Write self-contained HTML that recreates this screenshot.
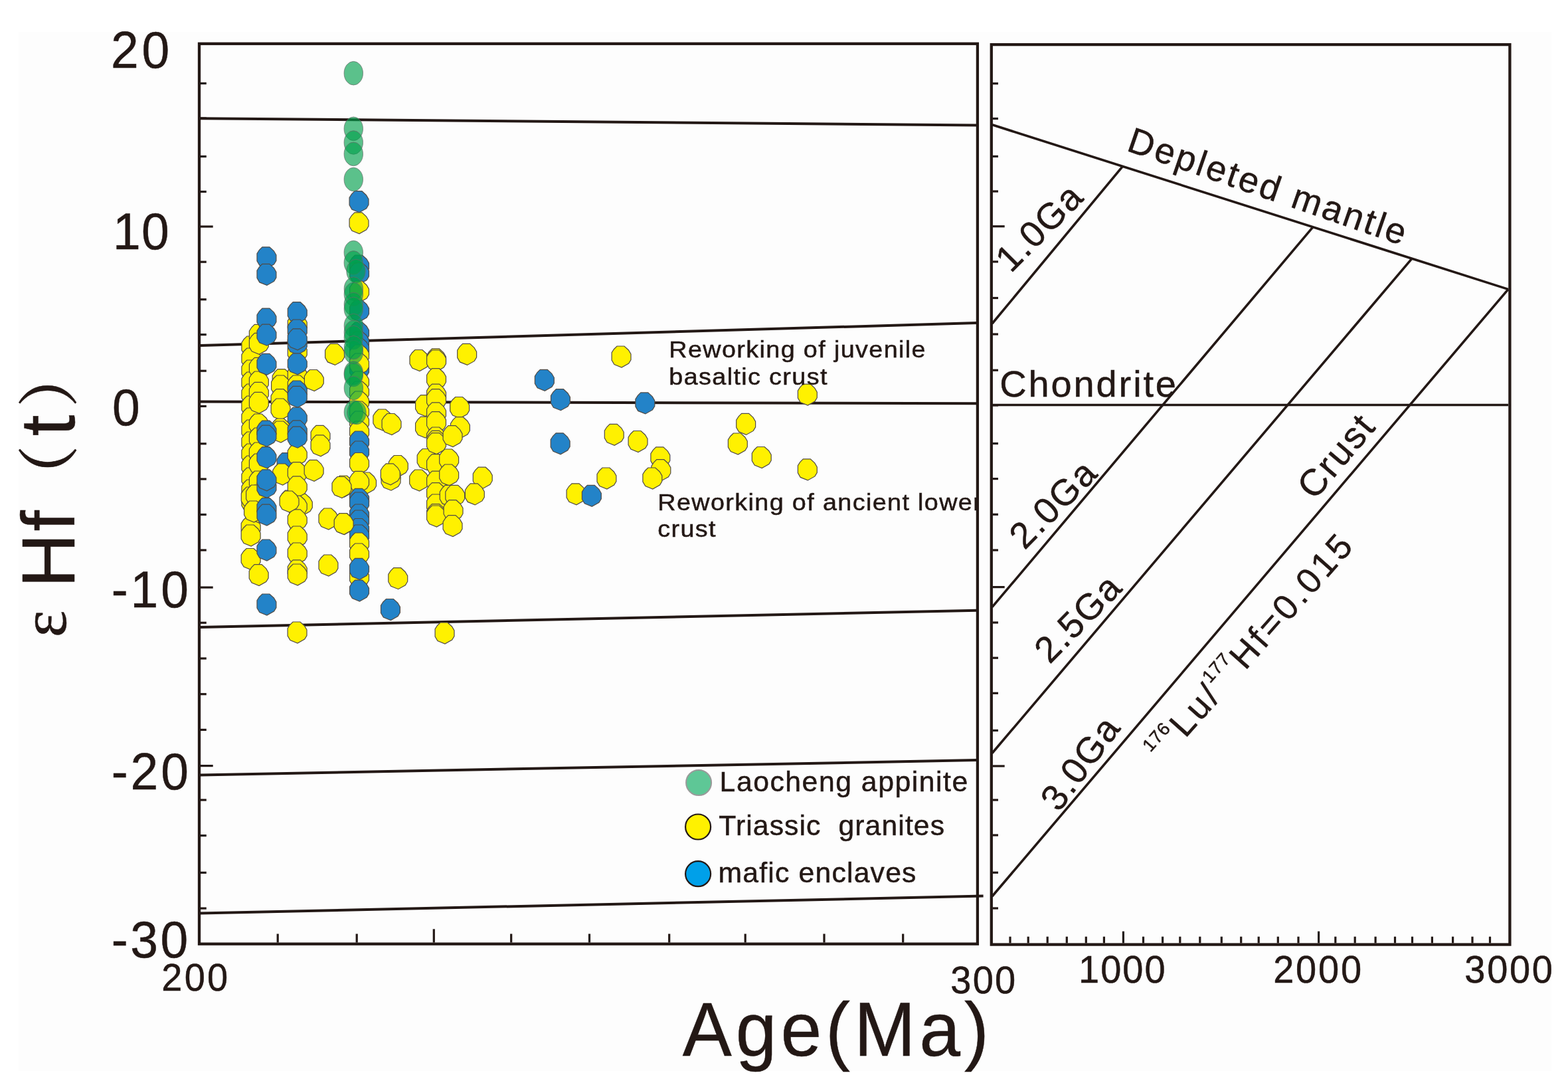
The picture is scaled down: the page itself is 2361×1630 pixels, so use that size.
<!DOCTYPE html>
<html><head><meta charset="utf-8"><title>εHf(t) vs Age</title>
<style>html,body{margin:0;padding:0;background:#fff;overflow:hidden}svg{display:block}</style></head>
<body><svg width="2361" height="1630" viewBox="0 0 2361 1630">
<defs><clipPath id="clipL" clipPathUnits="userSpaceOnUse"><rect x="0" y="0" width="1471" height="1630"/></clipPath></defs>
<rect x="0" y="0" width="2361" height="1630" fill="#ffffff"/>
<rect x="28" y="48" width="2308" height="1564" fill="#fdfdfd"/>
<g stroke="#231815" fill="none">
<line x1="302" y1="178.2" x2="1470" y2="188.5" stroke-width="4.0" stroke-linecap="butt"/>
<line x1="302" y1="520.1" x2="1470" y2="486.1" stroke-width="4.0" stroke-linecap="butt"/>
<line x1="302" y1="604.5" x2="1470" y2="607.3" stroke-width="4.0" stroke-linecap="butt"/>
<line x1="302" y1="943.9" x2="1470" y2="918.7" stroke-width="4.0" stroke-linecap="butt"/>
<line x1="302" y1="1166.4" x2="1470" y2="1144.1" stroke-width="4.0" stroke-linecap="butt"/>
<line x1="302" y1="1374.5" x2="1480.6" y2="1348.6" stroke-width="4.0" stroke-linecap="butt"/>
<line x1="1494" y1="187.8" x2="2271" y2="435.4" stroke-width="3.6" stroke-linecap="butt"/>
<line x1="1494" y1="609.5" x2="2271" y2="609.5" stroke-width="3.6" stroke-linecap="butt"/>
<line x1="1690.4" y1="250.38512226512228" x2="1494" y2="487" stroke-width="3.6" stroke-linecap="butt"/>
<line x1="1977" y1="341.7135135135135" x2="1494" y2="913.7" stroke-width="3.6" stroke-linecap="butt"/>
<line x1="2126" y1="389.1940797940798" x2="1494" y2="1133.5" stroke-width="3.6" stroke-linecap="butt"/>
<line x1="2271" y1="435.4" x2="1494" y2="1349" stroke-width="3.6" stroke-linecap="butt"/>
</g>
<polygon points="371.8,506.0 382.8,506.0 389.3,512.0 392.8,518.0 392.8,526.5 389.5,532.0 378.8,538.0 367.7,533.5 363.9,527.0 363.9,515.8 367.3,510.5" fill="#fff100" stroke="#514b45" stroke-width="1.2"/>
<polygon points="371.8,524.0 382.8,524.0 389.3,530.0 392.8,536.0 392.8,544.5 389.5,550.0 378.8,556.0 367.7,551.5 363.9,545.0 363.9,533.8 367.3,528.5" fill="#fff100" stroke="#514b45" stroke-width="1.2"/>
<polygon points="371.8,542.0 382.8,542.0 389.3,548.0 392.8,554.0 392.8,562.5 389.5,568.0 378.8,574.0 367.7,569.5 363.9,563.0 363.9,551.8 367.3,546.5" fill="#fff100" stroke="#514b45" stroke-width="1.2"/>
<polygon points="371.8,560.0 382.8,560.0 389.3,566.0 392.8,572.0 392.8,580.5 389.5,586.0 378.8,592.0 367.7,587.5 363.9,581.0 363.9,569.8 367.3,564.5" fill="#fff100" stroke="#514b45" stroke-width="1.2"/>
<polygon points="371.8,578.0 382.8,578.0 389.3,584.0 392.8,590.0 392.8,598.5 389.5,604.0 378.8,610.0 367.7,605.5 363.9,599.0 363.9,587.8 367.3,582.5" fill="#fff100" stroke="#514b45" stroke-width="1.2"/>
<polygon points="371.8,596.0 382.8,596.0 389.3,602.0 392.8,608.0 392.8,616.5 389.5,622.0 378.8,628.0 367.7,623.5 363.9,617.0 363.9,605.8 367.3,600.5" fill="#fff100" stroke="#514b45" stroke-width="1.2"/>
<polygon points="371.8,614.0 382.8,614.0 389.3,620.0 392.8,626.0 392.8,634.5 389.5,640.0 378.8,646.0 367.7,641.5 363.9,635.0 363.9,623.8 367.3,618.5" fill="#fff100" stroke="#514b45" stroke-width="1.2"/>
<polygon points="371.8,632.0 382.8,632.0 389.3,638.0 392.8,644.0 392.8,652.5 389.5,658.0 378.8,664.0 367.7,659.5 363.9,653.0 363.9,641.8 367.3,636.5" fill="#fff100" stroke="#514b45" stroke-width="1.2"/>
<polygon points="371.8,650.0 382.8,650.0 389.3,656.0 392.8,662.0 392.8,670.5 389.5,676.0 378.8,682.0 367.7,677.5 363.9,671.0 363.9,659.8 367.3,654.5" fill="#fff100" stroke="#514b45" stroke-width="1.2"/>
<polygon points="371.8,668.0 382.8,668.0 389.3,674.0 392.8,680.0 392.8,688.5 389.5,694.0 378.8,700.0 367.7,695.5 363.9,689.0 363.9,677.8 367.3,672.5" fill="#fff100" stroke="#514b45" stroke-width="1.2"/>
<polygon points="371.8,686.0 382.8,686.0 389.3,692.0 392.8,698.0 392.8,706.5 389.5,712.0 378.8,718.0 367.7,713.5 363.9,707.0 363.9,695.8 367.3,690.5" fill="#fff100" stroke="#514b45" stroke-width="1.2"/>
<polygon points="371.8,704.0 382.8,704.0 389.3,710.0 392.8,716.0 392.8,724.5 389.5,730.0 378.8,736.0 367.7,731.5 363.9,725.0 363.9,713.8 367.3,708.5" fill="#fff100" stroke="#514b45" stroke-width="1.2"/>
<polygon points="371.8,722.0 382.8,722.0 389.3,728.0 392.8,734.0 392.8,742.5 389.5,748.0 378.8,754.0 367.7,749.5 363.9,743.0 363.9,731.8 367.3,726.5" fill="#fff100" stroke="#514b45" stroke-width="1.2"/>
<polygon points="371.8,740.0 382.8,740.0 389.3,746.0 392.8,752.0 392.8,760.5 389.5,766.0 378.8,772.0 367.7,767.5 363.9,761.0 363.9,749.8 367.3,744.5" fill="#fff100" stroke="#514b45" stroke-width="1.2"/>
<polygon points="371.2,733.0 382.2,733.0 388.7,739.0 392.2,745.0 392.2,753.5 388.9,759.0 378.2,765.0 367.1,760.5 363.3,754.0 363.3,742.8 366.7,737.5" fill="#fff100" stroke="#514b45" stroke-width="1.2"/>
<polygon points="371.1,778.0 382.1,778.0 388.6,784.0 392.1,790.0 392.1,798.5 388.8,804.0 378.1,810.0 367.0,805.5 363.2,799.0 363.2,787.8 366.6,782.5" fill="#fff100" stroke="#514b45" stroke-width="1.2"/>
<polygon points="371.1,790.0 382.1,790.0 388.6,796.0 392.1,802.0 392.1,810.5 388.8,816.0 378.1,822.0 367.0,817.5 363.2,811.0 363.2,799.8 366.6,794.5" fill="#fff100" stroke="#514b45" stroke-width="1.2"/>
<polygon points="371.1,825.5 382.1,825.5 388.6,831.5 392.1,837.5 392.1,846.0 388.8,851.5 378.1,857.5 367.0,853.0 363.2,846.5 363.2,835.3 366.6,830.0" fill="#fff100" stroke="#514b45" stroke-width="1.2"/>
<polygon points="383.3,488.3 394.3,488.3 400.8,494.3 404.3,500.3 404.3,508.8 401.0,514.3 390.3,520.3 379.2,515.8 375.4,509.3 375.4,498.1 378.8,492.8" fill="#fff100" stroke="#514b45" stroke-width="1.2"/>
<polygon points="383.3,501.3 394.3,501.3 400.8,507.3 404.3,513.3 404.3,521.8 401.0,527.3 390.3,533.3 379.2,528.8 375.4,522.3 375.4,511.1 378.8,505.8" fill="#fff100" stroke="#514b45" stroke-width="1.2"/>
<polygon points="383.3,538.3 394.3,538.3 400.8,544.3 404.3,550.3 404.3,558.8 401.0,564.3 390.3,570.3 379.2,565.8 375.4,559.3 375.4,548.1 378.8,542.8" fill="#fff100" stroke="#514b45" stroke-width="1.2"/>
<polygon points="383.3,559.0 394.3,559.0 400.8,565.0 404.3,571.0 404.3,579.5 401.0,585.0 390.3,591.0 379.2,586.5 375.4,580.0 375.4,568.8 378.8,563.5" fill="#fff100" stroke="#514b45" stroke-width="1.2"/>
<polygon points="383.3,575.3 394.3,575.3 400.8,581.3 404.3,587.3 404.3,595.8 401.0,601.3 390.3,607.3 379.2,602.8 375.4,596.3 375.4,585.1 378.8,579.8" fill="#fff100" stroke="#514b45" stroke-width="1.2"/>
<polygon points="383.3,590.3 394.3,590.3 400.8,596.3 404.3,602.3 404.3,610.8 401.0,616.3 390.3,622.3 379.2,617.8 375.4,611.3 375.4,600.1 378.8,594.8" fill="#fff100" stroke="#514b45" stroke-width="1.2"/>
<polygon points="383.3,623.0 394.3,623.0 400.8,629.0 404.3,635.0 404.3,643.5 401.0,649.0 390.3,655.0 379.2,650.5 375.4,644.0 375.4,632.8 378.8,627.5" fill="#fff100" stroke="#514b45" stroke-width="1.2"/>
<polygon points="383.3,644.0 394.3,644.0 400.8,650.0 404.3,656.0 404.3,664.5 401.0,670.0 390.3,676.0 379.2,671.5 375.4,665.0 375.4,653.8 378.8,648.5" fill="#fff100" stroke="#514b45" stroke-width="1.2"/>
<polygon points="383.3,666.0 394.3,666.0 400.8,672.0 404.3,678.0 404.3,686.5 401.0,692.0 390.3,698.0 379.2,693.5 375.4,687.0 375.4,675.8 378.8,670.5" fill="#fff100" stroke="#514b45" stroke-width="1.2"/>
<polygon points="383.3,683.0 394.3,683.0 400.8,689.0 404.3,695.0 404.3,703.5 401.0,709.0 390.3,715.0 379.2,710.5 375.4,704.0 375.4,692.8 378.8,687.5" fill="#fff100" stroke="#514b45" stroke-width="1.2"/>
<polygon points="383.3,709.0 394.3,709.0 400.8,715.0 404.3,721.0 404.3,729.5 401.0,735.0 390.3,741.0 379.2,736.5 375.4,730.0 375.4,718.8 378.8,713.5" fill="#fff100" stroke="#514b45" stroke-width="1.2"/>
<polygon points="383.3,730.0 394.3,730.0 400.8,736.0 404.3,742.0 404.3,750.5 401.0,756.0 390.3,762.0 379.2,757.5 375.4,751.0 375.4,739.8 378.8,734.5" fill="#fff100" stroke="#514b45" stroke-width="1.2"/>
<polygon points="383.3,755.0 394.3,755.0 400.8,761.0 404.3,767.0 404.3,775.5 401.0,781.0 390.3,787.0 379.2,782.5 375.4,776.0 375.4,764.8 378.8,759.5" fill="#fff100" stroke="#514b45" stroke-width="1.2"/>
<polygon points="378.5,730.0 389.5,730.0 396.0,736.0 399.5,742.0 399.5,750.5 396.2,756.0 385.5,762.0 374.4,757.5 370.6,751.0 370.6,739.8 374.0,734.5" fill="#fff100" stroke="#514b45" stroke-width="1.2"/>
<polygon points="375.5,754.0 386.5,754.0 393.0,760.0 396.5,766.0 396.5,774.5 393.2,780.0 382.5,786.0 371.4,781.5 367.6,775.0 367.6,763.8 371.0,758.5" fill="#fff100" stroke="#514b45" stroke-width="1.2"/>
<polygon points="383.1,849.6 394.1,849.6 400.6,855.6 404.1,861.6 404.1,870.1 400.8,875.6 390.1,881.6 379.0,877.1 375.2,870.6 375.2,859.4 378.6,854.1" fill="#fff100" stroke="#514b45" stroke-width="1.2"/>
<polygon points="418.1,555.6 429.1,555.6 435.6,561.6 439.1,567.6 439.1,576.1 435.8,581.6 425.1,587.6 414.0,583.1 410.2,576.6 410.2,565.4 413.6,560.1" fill="#fff100" stroke="#514b45" stroke-width="1.2"/>
<polygon points="416.5,565.0 427.5,565.0 434.0,571.0 437.5,577.0 437.5,585.5 434.2,591.0 423.5,597.0 412.4,592.5 408.6,586.0 408.6,574.8 412.0,569.5" fill="#fff100" stroke="#514b45" stroke-width="1.2"/>
<polygon points="416.0,585.7 427.0,585.7 433.5,591.7 437.0,597.7 437.0,606.2 433.7,611.7 423.0,617.7 411.9,613.2 408.1,606.7 408.1,595.5 411.5,590.2" fill="#fff100" stroke="#514b45" stroke-width="1.2"/>
<polygon points="416.0,600.0 427.0,600.0 433.5,606.0 437.0,612.0 437.0,620.5 433.7,626.0 423.0,632.0 411.9,627.5 408.1,621.0 408.1,609.8 411.5,604.5" fill="#fff100" stroke="#514b45" stroke-width="1.2"/>
<polygon points="416.5,630.0 427.5,630.0 434.0,636.0 437.5,642.0 437.5,650.5 434.2,656.0 423.5,662.0 412.4,657.5 408.6,651.0 408.6,639.8 412.0,634.5" fill="#fff100" stroke="#514b45" stroke-width="1.2"/>
<polygon points="416.0,634.0 427.0,634.0 433.5,640.0 437.0,646.0 437.0,654.5 433.7,660.0 423.0,666.0 411.9,661.5 408.1,655.0 408.1,643.8 411.5,638.5" fill="#fff100" stroke="#514b45" stroke-width="1.2"/>
<polygon points="425.0,681.7 436.0,681.7 442.5,687.7 446.0,693.7 446.0,702.2 442.7,707.7 432.0,713.7 420.9,709.2 417.1,702.7 417.1,691.5 420.5,686.2" fill="#2383c8" stroke="#514b45" stroke-width="1.2"/>
<polygon points="418.7,698.0 429.7,698.0 436.2,704.0 439.7,710.0 439.7,718.5 436.4,724.0 425.7,730.0 414.6,725.5 410.8,719.0 410.8,707.8 414.2,702.5" fill="#fff100" stroke="#514b45" stroke-width="1.2"/>
<polygon points="429.6,738.1 440.6,738.1 447.1,744.1 450.6,750.1 450.6,758.6 447.3,764.1 436.6,770.1 425.5,765.6 421.7,759.1 421.7,747.9 425.1,742.6" fill="#fff100" stroke="#514b45" stroke-width="1.2"/>
<polygon points="441.2,472.9 452.2,472.9 458.7,478.9 462.2,484.9 462.2,493.4 458.9,498.9 448.2,504.9 437.1,500.4 433.3,493.9 433.3,482.7 436.7,477.4" fill="#fff100" stroke="#514b45" stroke-width="1.2"/>
<polygon points="441.2,514.0 452.2,514.0 458.7,520.0 462.2,526.0 462.2,534.5 458.9,540.0 448.2,546.0 437.1,541.5 433.3,535.0 433.3,523.8 436.7,518.5" fill="#fff100" stroke="#514b45" stroke-width="1.2"/>
<polygon points="441.2,549.0 452.2,549.0 458.7,555.0 462.2,561.0 462.2,569.5 458.9,575.0 448.2,581.0 437.1,576.5 433.3,570.0 433.3,558.8 436.7,553.5" fill="#fff100" stroke="#514b45" stroke-width="1.2"/>
<polygon points="441.2,565.0 452.2,565.0 458.7,571.0 462.2,577.0 462.2,585.5 458.9,591.0 448.2,597.0 437.1,592.5 433.3,586.0 433.3,574.8 436.7,569.5" fill="#fff100" stroke="#514b45" stroke-width="1.2"/>
<polygon points="449.3,743.5 460.3,743.5 466.8,749.5 470.3,755.5 470.3,764.0 467.0,769.5 456.3,775.5 445.2,771.0 441.4,764.5 441.4,753.3 444.8,748.0" fill="#fff100" stroke="#514b45" stroke-width="1.2"/>
<polygon points="441.2,668.5 452.2,668.5 458.7,674.5 462.2,680.5 462.2,689.0 458.9,694.5 448.2,700.5 437.1,696.0 433.3,689.5 433.3,678.3 436.7,673.0" fill="#fff100" stroke="#514b45" stroke-width="1.2"/>
<polygon points="441.2,695.7 452.2,695.7 458.7,701.7 462.2,707.7 462.2,716.2 458.9,721.7 448.2,727.7 437.1,723.2 433.3,716.7 433.3,705.5 436.7,700.2" fill="#fff100" stroke="#514b45" stroke-width="1.2"/>
<polygon points="441.2,716.8 452.2,716.8 458.7,722.8 462.2,728.8 462.2,737.3 458.9,742.8 448.2,748.8 437.1,744.3 433.3,737.8 433.3,726.6 436.7,721.3" fill="#fff100" stroke="#514b45" stroke-width="1.2"/>
<polygon points="441.2,746.2 452.2,746.2 458.7,752.2 462.2,758.2 462.2,766.7 458.9,772.2 448.2,778.2 437.1,773.7 433.3,767.2 433.3,756.0 436.7,750.7" fill="#fff100" stroke="#514b45" stroke-width="1.2"/>
<polygon points="441.2,766.9 452.2,766.9 458.7,772.9 462.2,778.9 462.2,787.4 458.9,792.9 448.2,798.9 437.1,794.4 433.3,787.9 433.3,776.7 436.7,771.4" fill="#fff100" stroke="#514b45" stroke-width="1.2"/>
<polygon points="441.2,792.0 452.2,792.0 458.7,798.0 462.2,804.0 462.2,812.5 458.9,818.0 448.2,824.0 437.1,819.5 433.3,813.0 433.3,801.8 436.7,796.5" fill="#fff100" stroke="#514b45" stroke-width="1.2"/>
<polygon points="441.2,817.0 452.2,817.0 458.7,823.0 462.2,829.0 462.2,837.5 458.9,843.0 448.2,849.0 437.1,844.5 433.3,838.0 433.3,826.8 436.7,821.5" fill="#fff100" stroke="#514b45" stroke-width="1.2"/>
<polygon points="441.2,842.8 452.2,842.8 458.7,848.8 462.2,854.8 462.2,863.3 458.9,868.8 448.2,874.8 437.1,870.3 433.3,863.8 433.3,852.6 436.7,847.3" fill="#fff100" stroke="#514b45" stroke-width="1.2"/>
<polygon points="441.2,849.0 452.2,849.0 458.7,855.0 462.2,861.0 462.2,869.5 458.9,875.0 448.2,881.0 437.1,876.5 433.3,870.0 433.3,858.8 436.7,853.5" fill="#fff100" stroke="#514b45" stroke-width="1.2"/>
<polygon points="429.0,739.0 440.0,739.0 446.5,745.0 450.0,751.0 450.0,759.5 446.7,765.0 436.0,771.0 424.9,766.5 421.1,760.0 421.1,748.8 424.5,743.5" fill="#fff100" stroke="#514b45" stroke-width="1.2"/>
<polygon points="441.0,936.0 452.0,936.0 458.5,942.0 462.0,948.0 462.0,956.5 458.7,962.0 448.0,968.0 436.9,963.5 433.1,957.0 433.1,945.8 436.5,940.5" fill="#fff100" stroke="#514b45" stroke-width="1.2"/>
<polygon points="466.3,556.5 477.3,556.5 483.8,562.5 487.3,568.5 487.3,577.0 484.0,582.5 473.3,588.5 462.2,584.0 458.4,577.5 458.4,566.3 461.8,561.0" fill="#fff100" stroke="#514b45" stroke-width="1.2"/>
<polygon points="497.5,517.4 508.5,517.4 515.0,523.4 518.5,529.4 518.5,537.9 515.2,543.4 504.5,549.4 493.4,544.9 489.6,538.4 489.6,527.2 493.0,521.9" fill="#fff100" stroke="#514b45" stroke-width="1.2"/>
<polygon points="476.0,640.3 487.0,640.3 493.5,646.3 497.0,652.3 497.0,660.8 493.7,666.3 483.0,672.3 471.9,667.8 468.1,661.3 468.1,650.1 471.5,644.8" fill="#fff100" stroke="#514b45" stroke-width="1.2"/>
<polygon points="476.0,654.8 487.0,654.8 493.5,660.8 497.0,666.8 497.0,675.3 493.7,680.8 483.0,686.8 471.9,682.3 468.1,675.8 468.1,664.6 471.5,659.3" fill="#fff100" stroke="#514b45" stroke-width="1.2"/>
<polygon points="466.1,692.3 477.1,692.3 483.6,698.3 487.1,704.3 487.1,712.8 483.8,718.3 473.1,724.3 462.0,719.8 458.2,713.3 458.2,702.1 461.6,696.8" fill="#fff100" stroke="#514b45" stroke-width="1.2"/>
<polygon points="487.9,765.0 498.9,765.0 505.4,771.0 508.9,777.0 508.9,785.5 505.6,791.0 494.9,797.0 483.8,792.5 480.0,786.0 480.0,774.8 483.4,769.5" fill="#fff100" stroke="#514b45" stroke-width="1.2"/>
<polygon points="511.5,772.5 522.5,772.5 529.0,778.5 532.5,784.5 532.5,793.0 529.2,798.5 518.5,804.5 507.4,800.0 503.6,793.5 503.6,782.3 507.0,777.0" fill="#fff100" stroke="#514b45" stroke-width="1.2"/>
<polygon points="511.5,716.0 522.5,716.0 529.0,722.0 532.5,728.0 532.5,736.5 529.2,742.0 518.5,748.0 507.4,743.5 503.6,737.0 503.6,725.8 507.0,720.5" fill="#fff100" stroke="#514b45" stroke-width="1.2"/>
<polygon points="394.9,371.8 405.9,371.8 412.4,377.8 415.9,383.8 415.9,392.3 412.6,397.8 401.9,403.8 390.8,399.3 387.0,392.8 387.0,381.6 390.4,376.3" fill="#2383c8" stroke="#514b45" stroke-width="1.2"/>
<polygon points="394.9,397.4 405.9,397.4 412.4,403.4 415.9,409.4 415.9,417.9 412.6,423.4 401.9,429.4 390.8,424.9 387.0,418.4 387.0,407.2 390.4,401.9" fill="#2383c8" stroke="#514b45" stroke-width="1.2"/>
<polygon points="394.9,464.1 405.9,464.1 412.4,470.1 415.9,476.1 415.9,484.6 412.6,490.1 401.9,496.1 390.8,491.6 387.0,485.1 387.0,473.9 390.4,468.6" fill="#2383c8" stroke="#514b45" stroke-width="1.2"/>
<polygon points="394.9,488.2 405.9,488.2 412.4,494.2 415.9,500.2 415.9,508.7 412.6,514.2 401.9,520.2 390.8,515.7 387.0,509.2 387.0,498.0 390.4,492.7" fill="#2383c8" stroke="#514b45" stroke-width="1.2"/>
<polygon points="394.9,532.4 405.9,532.4 412.4,538.4 415.9,544.4 415.9,552.9 412.6,558.4 401.9,564.4 390.8,559.9 387.0,553.4 387.0,542.2 390.4,536.9" fill="#2383c8" stroke="#514b45" stroke-width="1.2"/>
<polygon points="394.9,633.1 405.9,633.1 412.4,639.1 415.9,645.1 415.9,653.6 412.6,659.1 401.9,665.1 390.8,660.6 387.0,654.1 387.0,642.9 390.4,637.6" fill="#2383c8" stroke="#514b45" stroke-width="1.2"/>
<polygon points="394.9,640.1 405.9,640.1 412.4,646.1 415.9,652.1 415.9,660.6 412.6,666.1 401.9,672.1 390.8,667.6 387.0,661.1 387.0,649.9 390.4,644.6" fill="#2383c8" stroke="#514b45" stroke-width="1.2"/>
<polygon points="394.9,672.7 405.9,672.7 412.4,678.7 415.9,684.7 415.9,693.2 412.6,698.7 401.9,704.7 390.8,700.2 387.0,693.7 387.0,682.5 390.4,677.2" fill="#2383c8" stroke="#514b45" stroke-width="1.2"/>
<polygon points="394.9,717.4 405.9,717.4 412.4,723.4 415.9,729.4 415.9,737.9 412.6,743.4 401.9,749.4 390.8,744.9 387.0,738.4 387.0,727.2 390.4,721.9" fill="#2383c8" stroke="#514b45" stroke-width="1.2"/>
<polygon points="394.9,706.8 405.9,706.8 412.4,712.8 415.9,718.8 415.9,727.3 412.6,732.8 401.9,738.8 390.8,734.3 387.0,727.8 387.0,716.6 390.4,711.3" fill="#2383c8" stroke="#514b45" stroke-width="1.2"/>
<polygon points="394.9,749.4 405.9,749.4 412.4,755.4 415.9,761.4 415.9,769.9 412.6,775.4 401.9,781.4 390.8,776.9 387.0,770.4 387.0,759.2 390.4,753.9" fill="#2383c8" stroke="#514b45" stroke-width="1.2"/>
<polygon points="394.9,759.1 405.9,759.1 412.4,765.1 415.9,771.1 415.9,779.6 412.6,785.1 401.9,791.1 390.8,786.6 387.0,780.1 387.0,768.9 390.4,763.6" fill="#2383c8" stroke="#514b45" stroke-width="1.2"/>
<polygon points="394.9,812.0 405.9,812.0 412.4,818.0 415.9,824.0 415.9,832.5 412.6,838.0 401.9,844.0 390.8,839.5 387.0,833.0 387.0,821.8 390.4,816.5" fill="#2383c8" stroke="#514b45" stroke-width="1.2"/>
<polygon points="394.9,894.0 405.9,894.0 412.4,900.0 415.9,906.0 415.9,914.5 412.6,920.0 401.9,926.0 390.8,921.5 387.0,915.0 387.0,903.8 390.4,898.5" fill="#2383c8" stroke="#514b45" stroke-width="1.2"/>
<polygon points="441.2,454.7 452.2,454.7 458.7,460.7 462.2,466.7 462.2,475.2 458.9,480.7 448.2,486.7 437.1,482.2 433.3,475.7 433.3,464.5 436.7,459.2" fill="#2383c8" stroke="#514b45" stroke-width="1.2"/>
<polygon points="441.2,481.0 452.2,481.0 458.7,487.0 462.2,493.0 462.2,501.5 458.9,507.0 448.2,513.0 437.1,508.5 433.3,502.0 433.3,490.8 436.7,485.5" fill="#2383c8" stroke="#514b45" stroke-width="1.2"/>
<polygon points="441.2,501.7 452.2,501.7 458.7,507.7 462.2,513.7 462.2,522.2 458.9,527.7 448.2,533.7 437.1,529.2 433.3,522.7 433.3,511.5 436.7,506.2" fill="#2383c8" stroke="#514b45" stroke-width="1.2"/>
<polygon points="441.2,494.8 452.2,494.8 458.7,500.8 462.2,506.8 462.2,515.3 458.9,520.8 448.2,526.8 437.1,522.3 433.3,515.8 433.3,504.6 436.7,499.3" fill="#2383c8" stroke="#514b45" stroke-width="1.2"/>
<polygon points="441.2,531.8 452.2,531.8 458.7,537.8 462.2,543.8 462.2,552.3 458.9,557.8 448.2,563.8 437.1,559.3 433.3,552.8 433.3,541.6 436.7,536.3" fill="#2383c8" stroke="#514b45" stroke-width="1.2"/>
<polygon points="441.2,573.0 452.2,573.0 458.7,579.0 462.2,585.0 462.2,593.5 458.9,599.0 448.2,605.0 437.1,600.5 433.3,594.0 433.3,582.8 436.7,577.5" fill="#2383c8" stroke="#514b45" stroke-width="1.2"/>
<polygon points="441.2,581.3 452.2,581.3 458.7,587.3 462.2,593.3 462.2,601.8 458.9,607.3 448.2,613.3 437.1,608.8 433.3,602.3 433.3,591.1 436.7,585.8" fill="#2383c8" stroke="#514b45" stroke-width="1.2"/>
<polygon points="441.2,613.2 452.2,613.2 458.7,619.2 462.2,625.2 462.2,633.7 458.9,639.2 448.2,645.2 437.1,640.7 433.3,634.2 433.3,623.0 436.7,617.7" fill="#2383c8" stroke="#514b45" stroke-width="1.2"/>
<polygon points="441.2,632.8 452.2,632.8 458.7,638.8 462.2,644.8 462.2,653.3 458.9,658.8 448.2,664.8 437.1,660.3 433.3,653.8 433.3,642.6 436.7,637.3" fill="#2383c8" stroke="#514b45" stroke-width="1.2"/>
<polygon points="441.2,642.2 452.2,642.2 458.7,648.2 462.2,654.2 462.2,662.7 458.9,668.2 448.2,674.2 437.1,669.7 433.3,663.2 433.3,652.0 436.7,646.7" fill="#2383c8" stroke="#514b45" stroke-width="1.2"/>
<polygon points="534.5,384.0 545.5,384.0 552.0,390.0 555.5,396.0 555.5,404.5 552.2,410.0 541.5,416.0 530.4,411.5 526.6,405.0 526.6,393.8 530.0,388.5" fill="#2383c8" stroke="#514b45" stroke-width="1.2"/>
<polygon points="534.5,395.5 545.5,395.5 552.0,401.5 555.5,407.5 555.5,416.0 552.2,421.5 541.5,427.5 530.4,423.0 526.6,416.5 526.6,405.3 530.0,400.0" fill="#2383c8" stroke="#514b45" stroke-width="1.2"/>
<polygon points="534.5,423.0 545.5,423.0 552.0,429.0 555.5,435.0 555.5,443.5 552.2,449.0 541.5,455.0 530.4,450.5 526.6,444.0 526.6,432.8 530.0,427.5" fill="#fff100" stroke="#514b45" stroke-width="1.2"/>
<polygon points="534.5,452.0 545.5,452.0 552.0,458.0 555.5,464.0 555.5,472.5 552.2,478.0 541.5,484.0 530.4,479.5 526.6,473.0 526.6,461.8 530.0,456.5" fill="#2383c8" stroke="#514b45" stroke-width="1.2"/>
<polygon points="534.5,485.0 545.5,485.0 552.0,491.0 555.5,497.0 555.5,505.5 552.2,511.0 541.5,517.0 530.4,512.5 526.6,506.0 526.6,494.8 530.0,489.5" fill="#2383c8" stroke="#514b45" stroke-width="1.2"/>
<polygon points="534.5,514.0 545.5,514.0 552.0,520.0 555.5,526.0 555.5,534.5 552.2,540.0 541.5,546.0 530.4,541.5 526.6,535.0 526.6,523.8 530.0,518.5" fill="#2383c8" stroke="#514b45" stroke-width="1.2"/>
<polygon points="534.5,499.0 545.5,499.0 552.0,505.0 555.5,511.0 555.5,519.5 552.2,525.0 541.5,531.0 530.4,526.5 526.6,520.0 526.6,508.8 530.0,503.5" fill="#2383c8" stroke="#514b45" stroke-width="1.2"/>
<polygon points="534.5,509.0 545.5,509.0 552.0,515.0 555.5,521.0 555.5,529.5 552.2,535.0 541.5,541.0 530.4,536.5 526.6,530.0 526.6,518.8 530.0,513.5" fill="#2383c8" stroke="#514b45" stroke-width="1.2"/>
<polygon points="534.5,540.0 545.5,540.0 552.0,546.0 555.5,552.0 555.5,560.5 552.2,566.0 541.5,572.0 530.4,567.5 526.6,561.0 526.6,549.8 530.0,544.5" fill="#2383c8" stroke="#514b45" stroke-width="1.2"/>
<polygon points="534.5,519.0 545.5,519.0 552.0,525.0 555.5,531.0 555.5,539.5 552.2,545.0 541.5,551.0 530.4,546.5 526.6,540.0 526.6,528.8 530.0,523.5" fill="#fff100" stroke="#514b45" stroke-width="1.2"/>
<polygon points="534.5,532.0 545.5,532.0 552.0,538.0 555.5,544.0 555.5,552.5 552.2,558.0 541.5,564.0 530.4,559.5 526.6,553.0 526.6,541.8 530.0,536.5" fill="#fff100" stroke="#514b45" stroke-width="1.2"/>
<polygon points="534.5,559.0 545.5,559.0 552.0,565.0 555.5,571.0 555.5,579.5 552.2,585.0 541.5,591.0 530.4,586.5 526.6,580.0 526.6,568.8 530.0,563.5" fill="#fff100" stroke="#514b45" stroke-width="1.2"/>
<polygon points="534.5,574.0 545.5,574.0 552.0,580.0 555.5,586.0 555.5,594.5 552.2,600.0 541.5,606.0 530.4,601.5 526.6,595.0 526.6,583.8 530.0,578.5" fill="#fff100" stroke="#514b45" stroke-width="1.2"/>
<polygon points="534.5,589.0 545.5,589.0 552.0,595.0 555.5,601.0 555.5,609.5 552.2,615.0 541.5,621.0 530.4,616.5 526.6,610.0 526.6,598.8 530.0,593.5" fill="#fff100" stroke="#514b45" stroke-width="1.2"/>
<polygon points="534.5,604.0 545.5,604.0 552.0,610.0 555.5,616.0 555.5,624.5 552.2,630.0 541.5,636.0 530.4,631.5 526.6,625.0 526.6,613.8 530.0,608.5" fill="#fff100" stroke="#514b45" stroke-width="1.2"/>
<polygon points="534.5,619.0 545.5,619.0 552.0,625.0 555.5,631.0 555.5,639.5 552.2,645.0 541.5,651.0 530.4,646.5 526.6,640.0 526.6,628.8 530.0,623.5" fill="#fff100" stroke="#514b45" stroke-width="1.2"/>
<polygon points="534.5,634.0 545.5,634.0 552.0,640.0 555.5,646.0 555.5,654.5 552.2,660.0 541.5,666.0 530.4,661.5 526.6,655.0 526.6,643.8 530.0,638.5" fill="#fff100" stroke="#514b45" stroke-width="1.2"/>
<polygon points="534.5,649.0 545.5,649.0 552.0,655.0 555.5,661.0 555.5,669.5 552.2,675.0 541.5,681.0 530.4,676.5 526.6,670.0 526.6,658.8 530.0,653.5" fill="#2383c8" stroke="#514b45" stroke-width="1.2"/>
<polygon points="534.5,664.0 545.5,664.0 552.0,670.0 555.5,676.0 555.5,684.5 552.2,690.0 541.5,696.0 530.4,691.5 526.6,685.0 526.6,673.8 530.0,668.5" fill="#2383c8" stroke="#514b45" stroke-width="1.2"/>
<polygon points="534.5,681.5 545.5,681.5 552.0,687.5 555.5,693.5 555.5,702.0 552.2,707.5 541.5,713.5 530.4,709.0 526.6,702.5 526.6,691.3 530.0,686.0" fill="#fff100" stroke="#514b45" stroke-width="1.2"/>
<polygon points="545.5,711.0 556.5,711.0 563.0,717.0 566.5,723.0 566.5,731.5 563.2,737.0 552.5,743.0 541.4,738.5 537.6,732.0 537.6,720.8 541.0,715.5" fill="#fff100" stroke="#514b45" stroke-width="1.2"/>
<polygon points="534.5,709.3 545.5,709.3 552.0,715.3 555.5,721.3 555.5,729.8 552.2,735.3 541.5,741.3 530.4,736.8 526.6,730.3 526.6,719.1 530.0,713.8" fill="#fff100" stroke="#514b45" stroke-width="1.2"/>
<polygon points="534.5,735.4 545.5,735.4 552.0,741.4 555.5,747.4 555.5,755.9 552.2,761.4 541.5,767.4 530.4,762.9 526.6,756.4 526.6,745.2 530.0,739.9" fill="#2383c8" stroke="#514b45" stroke-width="1.2"/>
<polygon points="534.5,741.0 545.5,741.0 552.0,747.0 555.5,753.0 555.5,761.5 552.2,767.0 541.5,773.0 530.4,768.5 526.6,762.0 526.6,750.8 530.0,745.5" fill="#2383c8" stroke="#514b45" stroke-width="1.2"/>
<polygon points="534.5,759.0 545.5,759.0 552.0,765.0 555.5,771.0 555.5,779.5 552.2,785.0 541.5,791.0 530.4,786.5 526.6,780.0 526.6,768.8 530.0,763.5" fill="#2383c8" stroke="#514b45" stroke-width="1.2"/>
<polygon points="534.5,768.0 545.5,768.0 552.0,774.0 555.5,780.0 555.5,788.5 552.2,794.0 541.5,800.0 530.4,795.5 526.6,789.0 526.6,777.8 530.0,772.5" fill="#2383c8" stroke="#514b45" stroke-width="1.2"/>
<polygon points="534.5,780.5 545.5,780.5 552.0,786.5 555.5,792.5 555.5,801.0 552.2,806.5 541.5,812.5 530.4,808.0 526.6,801.5 526.6,790.3 530.0,785.0" fill="#2383c8" stroke="#514b45" stroke-width="1.2"/>
<polygon points="534.5,790.0 545.5,790.0 552.0,796.0 555.5,802.0 555.5,810.5 552.2,816.0 541.5,822.0 530.4,817.5 526.6,811.0 526.6,799.8 530.0,794.5" fill="#2383c8" stroke="#514b45" stroke-width="1.2"/>
<polygon points="534.5,802.0 545.5,802.0 552.0,808.0 555.5,814.0 555.5,822.5 552.2,828.0 541.5,834.0 530.4,829.5 526.6,823.0 526.6,811.8 530.0,806.5" fill="#fff100" stroke="#514b45" stroke-width="1.2"/>
<polygon points="534.5,818.0 545.5,818.0 552.0,824.0 555.5,830.0 555.5,838.5 552.2,844.0 541.5,850.0 530.4,845.5 526.6,839.0 526.6,827.8 530.0,822.5" fill="#fff100" stroke="#514b45" stroke-width="1.2"/>
<polygon points="534.5,853.0 545.5,853.0 552.0,859.0 555.5,865.0 555.5,873.5 552.2,879.0 541.5,885.0 530.4,880.5 526.6,874.0 526.6,862.8 530.0,857.5" fill="#fff100" stroke="#514b45" stroke-width="1.2"/>
<polygon points="534.5,840.3 545.5,840.3 552.0,846.3 555.5,852.3 555.5,860.8 552.2,866.3 541.5,872.3 530.4,867.8 526.6,861.3 526.6,850.1 530.0,844.8" fill="#2383c8" stroke="#514b45" stroke-width="1.2"/>
<polygon points="534.5,873.1 545.5,873.1 552.0,879.1 555.5,885.1 555.5,893.6 552.2,899.1 541.5,905.1 530.4,900.6 526.6,894.1 526.6,882.9 530.0,877.6" fill="#2383c8" stroke="#514b45" stroke-width="1.2"/>
<polygon points="534.0,287.7 545.0,287.7 551.5,293.7 555.0,299.7 555.0,308.2 551.7,313.7 541.0,319.7 529.9,315.2 526.1,308.7 526.1,297.5 529.5,292.2" fill="#2383c8" stroke="#514b45" stroke-width="1.2"/>
<polygon points="534.0,319.8 545.0,319.8 551.5,325.8 555.0,331.8 555.0,340.3 551.7,345.8 541.0,351.8 529.9,347.3 526.1,340.8 526.1,329.6 529.5,324.3" fill="#fff100" stroke="#514b45" stroke-width="1.2"/>
<polygon points="507.9,717.5 518.9,717.5 525.4,723.5 528.9,729.5 528.9,738.0 525.6,743.5 514.9,749.5 503.8,745.0 500.0,738.5 500.0,727.3 503.4,722.0" fill="#fff100" stroke="#514b45" stroke-width="1.2"/>
<polygon points="511.1,772.6 522.1,772.6 528.6,778.6 532.1,784.6 532.1,793.1 528.8,798.6 518.1,804.6 507.0,800.1 503.2,793.6 503.2,782.4 506.6,777.1" fill="#fff100" stroke="#514b45" stroke-width="1.2"/>
<polygon points="487.9,835.0 498.9,835.0 505.4,841.0 508.9,847.0 508.9,855.5 505.6,861.0 494.9,867.0 483.8,862.5 480.0,856.0 480.0,844.8 483.4,839.5" fill="#fff100" stroke="#514b45" stroke-width="1.2"/>
<polygon points="569.8,616.0 580.8,616.0 587.3,622.0 590.8,628.0 590.8,636.5 587.5,642.0 576.8,648.0 565.7,643.5 561.9,637.0 561.9,625.8 565.3,620.5" fill="#fff100" stroke="#514b45" stroke-width="1.2"/>
<polygon points="583.0,622.5 594.0,622.5 600.5,628.5 604.0,634.5 604.0,643.0 600.7,648.5 590.0,654.5 578.9,650.0 575.1,643.5 575.1,632.3 578.5,627.0" fill="#fff100" stroke="#514b45" stroke-width="1.2"/>
<polygon points="593.3,685.5 604.3,685.5 610.8,691.5 614.3,697.5 614.3,706.0 611.0,711.5 600.3,717.5 589.2,713.0 585.4,706.5 585.4,695.3 588.8,690.0" fill="#fff100" stroke="#514b45" stroke-width="1.2"/>
<polygon points="582.0,700.5 593.0,700.5 599.5,706.5 603.0,712.5 603.0,721.0 599.7,726.5 589.0,732.5 577.9,728.0 574.1,721.5 574.1,710.3 577.5,705.0" fill="#fff100" stroke="#514b45" stroke-width="1.2"/>
<polygon points="582.0,706.2 593.0,706.2 599.5,712.2 603.0,718.2 603.0,726.7 599.7,732.2 589.0,738.2 577.9,733.7 574.1,727.2 574.1,716.0 577.5,710.7" fill="#fff100" stroke="#514b45" stroke-width="1.2"/>
<polygon points="581.2,697.8 592.2,697.8 598.7,703.8 602.2,709.8 602.2,718.3 598.9,723.8 588.2,729.8 577.1,725.3 573.3,718.8 573.3,707.6 576.7,702.3" fill="#fff100" stroke="#514b45" stroke-width="1.2"/>
<polygon points="592.7,854.7 603.7,854.7 610.2,860.7 613.7,866.7 613.7,875.2 610.4,880.7 599.7,886.7 588.6,882.2 584.8,875.7 584.8,864.5 588.2,859.2" fill="#fff100" stroke="#514b45" stroke-width="1.2"/>
<polygon points="663.0,937.0 674.0,937.0 680.5,943.0 684.0,949.0 684.0,957.5 680.7,963.0 670.0,969.0 658.9,964.5 655.1,958.0 655.1,946.8 658.5,941.5" fill="#fff100" stroke="#514b45" stroke-width="1.2"/>
<polygon points="581.4,901.5 592.4,901.5 598.9,907.5 602.4,913.5 602.4,922.0 599.1,927.5 588.4,933.5 577.3,929.0 573.5,922.5 573.5,911.3 576.9,906.0" fill="#2383c8" stroke="#514b45" stroke-width="1.2"/>
<ellipse cx="532.3" cy="110.2" rx="14.2" ry="17.8" fill="rgb(0,160,75)" fill-opacity="0.64" stroke="#6a6a6a" stroke-opacity="0.7" stroke-width="1"/>
<ellipse cx="532.3" cy="193.8" rx="14.2" ry="17.8" fill="rgb(0,160,75)" fill-opacity="0.64" stroke="#6a6a6a" stroke-opacity="0.7" stroke-width="1"/>
<ellipse cx="532.3" cy="214.5" rx="14.2" ry="17.8" fill="rgb(0,160,75)" fill-opacity="0.64" stroke="#6a6a6a" stroke-opacity="0.7" stroke-width="1"/>
<ellipse cx="532.3" cy="231.8" rx="14.2" ry="17.8" fill="rgb(0,160,75)" fill-opacity="0.64" stroke="#6a6a6a" stroke-opacity="0.7" stroke-width="1"/>
<ellipse cx="532.3" cy="270" rx="14.2" ry="17.8" fill="rgb(0,160,75)" fill-opacity="0.64" stroke="#6a6a6a" stroke-opacity="0.7" stroke-width="1"/>
<ellipse cx="532.3" cy="380" rx="14.2" ry="17.8" fill="rgb(0,160,75)" fill-opacity="0.64" stroke="#6a6a6a" stroke-opacity="0.7" stroke-width="1"/>
<ellipse cx="532.3" cy="395.4" rx="14.2" ry="17.8" fill="rgb(0,160,75)" fill-opacity="0.64" stroke="#6a6a6a" stroke-opacity="0.7" stroke-width="1"/>
<ellipse cx="536" cy="408" rx="14.2" ry="17.8" fill="rgb(0,160,75)" fill-opacity="0.64" stroke="#6a6a6a" stroke-opacity="0.7" stroke-width="1"/>
<ellipse cx="532.4" cy="434.6" rx="14.2" ry="17.8" fill="rgb(0,160,75)" fill-opacity="0.64" stroke="#6a6a6a" stroke-opacity="0.7" stroke-width="1"/>
<ellipse cx="532.4" cy="442.8" rx="14.2" ry="17.8" fill="rgb(0,160,75)" fill-opacity="0.64" stroke="#6a6a6a" stroke-opacity="0.7" stroke-width="1"/>
<ellipse cx="532.4" cy="458" rx="14.2" ry="17.8" fill="rgb(0,160,75)" fill-opacity="0.64" stroke="#6a6a6a" stroke-opacity="0.7" stroke-width="1"/>
<ellipse cx="532.4" cy="465" rx="14.2" ry="17.8" fill="rgb(0,160,75)" fill-opacity="0.64" stroke="#6a6a6a" stroke-opacity="0.7" stroke-width="1"/>
<ellipse cx="532.4" cy="490" rx="14.2" ry="17.8" fill="rgb(0,160,75)" fill-opacity="0.64" stroke="#6a6a6a" stroke-opacity="0.7" stroke-width="1"/>
<ellipse cx="532.4" cy="500" rx="14.2" ry="17.8" fill="rgb(0,160,75)" fill-opacity="0.64" stroke="#6a6a6a" stroke-opacity="0.7" stroke-width="1"/>
<ellipse cx="532.4" cy="508" rx="14.2" ry="17.8" fill="rgb(0,160,75)" fill-opacity="0.64" stroke="#6a6a6a" stroke-opacity="0.7" stroke-width="1"/>
<ellipse cx="532.4" cy="530" rx="14.2" ry="17.8" fill="rgb(0,160,75)" fill-opacity="0.64" stroke="#6a6a6a" stroke-opacity="0.7" stroke-width="1"/>
<ellipse cx="532.4" cy="523.2" rx="14.2" ry="17.8" fill="rgb(0,160,75)" fill-opacity="0.64" stroke="#6a6a6a" stroke-opacity="0.7" stroke-width="1"/>
<ellipse cx="532.4" cy="561.4" rx="14.2" ry="17.8" fill="rgb(0,160,75)" fill-opacity="0.64" stroke="#6a6a6a" stroke-opacity="0.7" stroke-width="1"/>
<ellipse cx="532.4" cy="564" rx="14.2" ry="17.8" fill="rgb(0,160,75)" fill-opacity="0.64" stroke="#6a6a6a" stroke-opacity="0.7" stroke-width="1"/>
<ellipse cx="532.4" cy="584" rx="14.2" ry="17.8" fill="rgb(0,160,75)" fill-opacity="0.64" stroke="#6a6a6a" stroke-opacity="0.7" stroke-width="1"/>
<ellipse cx="532.4" cy="620.3" rx="14.2" ry="17.8" fill="rgb(0,160,75)" fill-opacity="0.64" stroke="#6a6a6a" stroke-opacity="0.7" stroke-width="1"/>
<ellipse cx="537" cy="621" rx="14.2" ry="17.8" fill="rgb(0,160,75)" fill-opacity="0.64" stroke="#6a6a6a" stroke-opacity="0.7" stroke-width="1"/>
<polygon points="624.9,526.5 635.9,526.5 642.4,532.5 645.9,538.5 645.9,547.0 642.6,552.5 631.9,558.5 620.8,554.0 617.0,547.5 617.0,536.3 620.4,531.0" fill="#fff100" stroke="#514b45" stroke-width="1.2"/>
<polygon points="633.5,594.6 644.5,594.6 651.0,600.6 654.5,606.6 654.5,615.1 651.2,620.6 640.5,626.6 629.4,622.1 625.6,615.6 625.6,604.4 629.0,599.1" fill="#fff100" stroke="#514b45" stroke-width="1.2"/>
<polygon points="633.5,627.1 644.5,627.1 651.0,633.1 654.5,639.1 654.5,647.6 651.2,653.1 640.5,659.1 629.4,654.6 625.6,648.1 625.6,636.9 629.0,631.6" fill="#fff100" stroke="#514b45" stroke-width="1.2"/>
<polygon points="636.1,675.5 647.1,675.5 653.6,681.5 657.1,687.5 657.1,696.0 653.8,701.5 643.1,707.5 632.0,703.0 628.2,696.5 628.2,685.3 631.6,680.0" fill="#fff100" stroke="#514b45" stroke-width="1.2"/>
<polygon points="624.6,707.0 635.6,707.0 642.1,713.0 645.6,719.0 645.6,727.5 642.3,733.0 631.6,739.0 620.5,734.5 616.7,728.0 616.7,716.8 620.1,711.5" fill="#fff100" stroke="#514b45" stroke-width="1.2"/>
<polygon points="650.5,524.9 661.5,524.9 668.0,530.9 671.5,536.9 671.5,545.4 668.2,550.9 657.5,556.9 646.4,552.4 642.6,545.9 642.6,534.7 646.0,529.4" fill="#fff100" stroke="#514b45" stroke-width="1.2"/>
<polygon points="650.5,527.0 661.5,527.0 668.0,533.0 671.5,539.0 671.5,547.5 668.2,553.0 657.5,559.0 646.4,554.5 642.6,548.0 642.6,536.8 646.0,531.5" fill="#fff100" stroke="#514b45" stroke-width="1.2"/>
<polygon points="650.5,554.7 661.5,554.7 668.0,560.7 671.5,566.7 671.5,575.2 668.2,580.7 657.5,586.7 646.4,582.2 642.6,575.7 642.6,564.5 646.0,559.2" fill="#fff100" stroke="#514b45" stroke-width="1.2"/>
<polygon points="650.5,578.1 661.5,578.1 668.0,584.1 671.5,590.1 671.5,598.6 668.2,604.1 657.5,610.1 646.4,605.6 642.6,599.1 642.6,587.9 646.0,582.6" fill="#fff100" stroke="#514b45" stroke-width="1.2"/>
<polygon points="650.5,585.6 661.5,585.6 668.0,591.6 671.5,597.6 671.5,606.1 668.2,611.6 657.5,617.6 646.4,613.1 642.6,606.6 642.6,595.4 646.0,590.1" fill="#fff100" stroke="#514b45" stroke-width="1.2"/>
<polygon points="650.5,605.8 661.5,605.8 668.0,611.8 671.5,617.8 671.5,626.3 668.2,631.8 657.5,637.8 646.4,633.3 642.6,626.8 642.6,615.6 646.0,610.3" fill="#fff100" stroke="#514b45" stroke-width="1.2"/>
<polygon points="650.5,619.7 661.5,619.7 668.0,625.7 671.5,631.7 671.5,640.2 668.2,645.7 657.5,651.7 646.4,647.2 642.6,640.7 642.6,629.5 646.0,624.2" fill="#fff100" stroke="#514b45" stroke-width="1.2"/>
<polygon points="650.5,643.0 661.5,643.0 668.0,649.0 671.5,655.0 671.5,663.5 668.2,669.0 657.5,675.0 646.4,670.5 642.6,664.0 642.6,652.8 646.0,647.5" fill="#fff100" stroke="#514b45" stroke-width="1.2"/>
<polygon points="650.5,648.4 661.5,648.4 668.0,654.4 671.5,660.4 671.5,668.9 668.2,674.4 657.5,680.4 646.4,675.9 642.6,669.4 642.6,658.2 646.0,652.9" fill="#fff100" stroke="#514b45" stroke-width="1.2"/>
<polygon points="650.5,651.6 661.5,651.6 668.0,657.6 671.5,663.6 671.5,672.1 668.2,677.6 657.5,683.6 646.4,679.1 642.6,672.6 642.6,661.4 646.0,656.1" fill="#fff100" stroke="#514b45" stroke-width="1.2"/>
<polygon points="650.5,683.7 661.5,683.7 668.0,689.7 671.5,695.7 671.5,704.2 668.2,709.7 657.5,715.7 646.4,711.2 642.6,704.7 642.6,693.5 646.0,688.2" fill="#fff100" stroke="#514b45" stroke-width="1.2"/>
<polygon points="650.5,709.1 661.5,709.1 668.0,715.1 671.5,721.1 671.5,729.6 668.2,735.1 657.5,741.1 646.4,736.6 642.6,730.1 642.6,718.9 646.0,713.6" fill="#fff100" stroke="#514b45" stroke-width="1.2"/>
<polygon points="650.5,726.7 661.5,726.7 668.0,732.7 671.5,738.7 671.5,747.2 668.2,752.7 657.5,758.7 646.4,754.2 642.6,747.7 642.6,736.5 646.0,731.2" fill="#fff100" stroke="#514b45" stroke-width="1.2"/>
<polygon points="650.5,744.0 661.5,744.0 668.0,750.0 671.5,756.0 671.5,764.5 668.2,770.0 657.5,776.0 646.4,771.5 642.6,765.0 642.6,753.8 646.0,748.5" fill="#fff100" stroke="#514b45" stroke-width="1.2"/>
<polygon points="650.5,758.6 661.5,758.6 668.0,764.6 671.5,770.6 671.5,779.1 668.2,784.6 657.5,790.6 646.4,786.1 642.6,779.6 642.6,768.4 646.0,763.1" fill="#fff100" stroke="#514b45" stroke-width="1.2"/>
<polygon points="650.5,761.0 661.5,761.0 668.0,767.0 671.5,773.0 671.5,781.5 668.2,787.0 657.5,793.0 646.4,788.5 642.6,782.0 642.6,770.8 646.0,765.5" fill="#fff100" stroke="#514b45" stroke-width="1.2"/>
<polygon points="685.6,597.5 696.6,597.5 703.1,603.5 706.6,609.5 706.6,618.0 703.3,623.5 692.6,629.5 681.5,625.0 677.7,618.5 677.7,607.3 681.1,602.0" fill="#fff100" stroke="#514b45" stroke-width="1.2"/>
<polygon points="686.4,627.7 697.4,627.7 703.9,633.7 707.4,639.7 707.4,648.2 704.1,653.7 693.4,659.7 682.3,655.2 678.5,648.7 678.5,637.5 681.9,632.2" fill="#fff100" stroke="#514b45" stroke-width="1.2"/>
<polygon points="675.0,640.6 686.0,640.6 692.5,646.6 696.0,652.6 696.0,661.1 692.7,666.6 682.0,672.6 670.9,668.1 667.1,661.6 667.1,650.4 670.5,645.1" fill="#fff100" stroke="#514b45" stroke-width="1.2"/>
<polygon points="669.6,676.0 680.6,676.0 687.1,682.0 690.6,688.0 690.6,696.5 687.3,702.0 676.6,708.0 665.5,703.5 661.7,697.0 661.7,685.8 665.1,680.5" fill="#fff100" stroke="#514b45" stroke-width="1.2"/>
<polygon points="669.6,699.0 680.6,699.0 687.1,705.0 690.6,711.0 690.6,719.5 687.3,725.0 676.6,731.0 665.5,726.5 661.7,720.0 661.7,708.8 665.1,703.5" fill="#fff100" stroke="#514b45" stroke-width="1.2"/>
<polygon points="670.2,730.4 681.2,730.4 687.7,736.4 691.2,742.4 691.2,750.9 687.9,756.4 677.2,762.4 666.1,757.9 662.3,751.4 662.3,740.2 665.7,734.9" fill="#fff100" stroke="#514b45" stroke-width="1.2"/>
<polygon points="678.7,730.4 689.7,730.4 696.2,736.4 699.7,742.4 699.7,750.9 696.4,756.4 685.7,762.4 674.6,757.9 670.8,751.4 670.8,740.2 674.2,734.9" fill="#fff100" stroke="#514b45" stroke-width="1.2"/>
<polygon points="676.0,752.7 687.0,752.7 693.5,758.7 697.0,764.7 697.0,773.2 693.7,778.7 683.0,784.7 671.9,780.2 668.1,773.7 668.1,762.5 671.5,757.2" fill="#fff100" stroke="#514b45" stroke-width="1.2"/>
<polygon points="675.0,775.6 686.0,775.6 692.5,781.6 696.0,787.6 696.0,796.1 692.7,801.6 682.0,807.6 670.9,803.1 667.1,796.6 667.1,785.4 670.5,780.1" fill="#fff100" stroke="#514b45" stroke-width="1.2"/>
<polygon points="696.6,517.4 707.6,517.4 714.1,523.4 717.6,529.4 717.6,537.9 714.3,543.4 703.6,549.4 692.5,544.9 688.7,538.4 688.7,527.2 692.1,521.9" fill="#fff100" stroke="#514b45" stroke-width="1.2"/>
<polygon points="720.2,703.2 731.2,703.2 737.7,709.2 741.2,715.2 741.2,723.7 737.9,729.2 727.2,735.2 716.1,730.7 712.3,724.2 712.3,713.0 715.7,707.7" fill="#fff100" stroke="#514b45" stroke-width="1.2"/>
<polygon points="708.3,727.9 719.3,727.9 725.8,733.9 729.3,739.9 729.3,748.4 726.0,753.9 715.3,759.9 704.2,755.4 700.4,748.9 700.4,737.7 703.8,732.4" fill="#fff100" stroke="#514b45" stroke-width="1.2"/>
<polygon points="813.3,556.3 824.3,556.3 830.8,562.3 834.3,568.3 834.3,576.8 831.0,582.3 820.3,588.3 809.2,583.8 805.4,577.3 805.4,566.1 808.8,560.8" fill="#2383c8" stroke="#514b45" stroke-width="1.2"/>
<polygon points="837.4,585.7 848.4,585.7 854.9,591.7 858.4,597.7 858.4,606.2 855.1,611.7 844.4,617.7 833.3,613.2 829.5,606.7 829.5,595.5 832.9,590.2" fill="#2383c8" stroke="#514b45" stroke-width="1.2"/>
<polygon points="964.8,590.9 975.8,590.9 982.3,596.9 985.8,602.9 985.8,611.4 982.5,616.9 971.8,622.9 960.7,618.4 956.9,611.9 956.9,600.7 960.3,595.4" fill="#2383c8" stroke="#514b45" stroke-width="1.2"/>
<polygon points="837.1,651.8 848.1,651.8 854.6,657.8 858.1,663.8 858.1,672.3 854.8,677.8 844.1,683.8 833.0,679.3 829.2,672.8 829.2,661.6 832.6,656.3" fill="#2383c8" stroke="#514b45" stroke-width="1.2"/>
<polygon points="929.0,521.0 940.0,521.0 946.5,527.0 950.0,533.0 950.0,541.5 946.7,547.0 936.0,553.0 924.9,548.5 921.1,542.0 921.1,530.8 924.5,525.5" fill="#fff100" stroke="#514b45" stroke-width="1.2"/>
<polygon points="918.2,638.3 929.2,638.3 935.7,644.3 939.2,650.3 939.2,658.8 935.9,664.3 925.2,670.3 914.1,665.8 910.3,659.3 910.3,648.1 913.7,642.8" fill="#fff100" stroke="#514b45" stroke-width="1.2"/>
<polygon points="954.0,648.5 965.0,648.5 971.5,654.5 975.0,660.5 975.0,669.0 971.7,674.5 961.0,680.5 949.9,676.0 946.1,669.5 946.1,658.3 949.5,653.0" fill="#fff100" stroke="#514b45" stroke-width="1.2"/>
<polygon points="987.8,672.9 998.8,672.9 1005.3,678.9 1008.8,684.9 1008.8,693.4 1005.5,698.9 994.8,704.9 983.7,700.4 979.9,693.9 979.9,682.7 983.3,677.4" fill="#fff100" stroke="#514b45" stroke-width="1.2"/>
<polygon points="988.8,691.7 999.8,691.7 1006.3,697.7 1009.8,703.7 1009.8,712.2 1006.5,717.7 995.8,723.7 984.7,719.2 980.9,712.7 980.9,701.5 984.3,696.2" fill="#fff100" stroke="#514b45" stroke-width="1.2"/>
<polygon points="975.8,704.0 986.8,704.0 993.3,710.0 996.8,716.0 996.8,724.5 993.5,730.0 982.8,736.0 971.7,731.5 967.9,725.0 967.9,713.8 971.3,708.5" fill="#fff100" stroke="#514b45" stroke-width="1.2"/>
<polygon points="906.9,704.0 917.9,704.0 924.4,710.0 927.9,716.0 927.9,724.5 924.6,730.0 913.9,736.0 902.8,731.5 899.0,725.0 899.0,713.8 902.4,708.5" fill="#fff100" stroke="#514b45" stroke-width="1.2"/>
<polygon points="861.0,727.8 872.0,727.8 878.5,733.8 882.0,739.8 882.0,748.3 878.7,753.8 868.0,759.8 856.9,755.3 853.1,748.8 853.1,737.6 856.5,732.3" fill="#fff100" stroke="#514b45" stroke-width="1.2"/>
<polygon points="884.3,730.3 895.3,730.3 901.8,736.3 905.3,742.3 905.3,750.8 902.0,756.3 891.3,762.3 880.2,757.8 876.4,751.3 876.4,740.1 879.8,734.8" fill="#2383c8" stroke="#514b45" stroke-width="1.2"/>
<polygon points="1209.3,578.1 1220.3,578.1 1226.8,584.1 1230.3,590.1 1230.3,598.6 1227.0,604.1 1216.3,610.1 1205.2,605.6 1201.4,599.1 1201.4,587.9 1204.8,582.6" fill="#fff100" stroke="#514b45" stroke-width="1.2"/>
<polygon points="1116.6,622.4 1127.6,622.4 1134.1,628.4 1137.6,634.4 1137.6,642.9 1134.3,648.4 1123.6,654.4 1112.5,649.9 1108.7,643.4 1108.7,632.2 1112.1,626.9" fill="#fff100" stroke="#514b45" stroke-width="1.2"/>
<polygon points="1104.3,652.0 1115.3,652.0 1121.8,658.0 1125.3,664.0 1125.3,672.5 1122.0,678.0 1111.3,684.0 1100.2,679.5 1096.4,673.0 1096.4,661.8 1099.8,656.5" fill="#fff100" stroke="#514b45" stroke-width="1.2"/>
<polygon points="1140.2,672.5 1151.2,672.5 1157.7,678.5 1161.2,684.5 1161.2,693.0 1157.9,698.5 1147.2,704.5 1136.1,700.0 1132.3,693.5 1132.3,682.3 1135.7,677.0" fill="#fff100" stroke="#514b45" stroke-width="1.2"/>
<polygon points="1209.3,690.9 1220.3,690.9 1226.8,696.9 1230.3,702.9 1230.3,711.4 1227.0,716.9 1216.3,722.9 1205.2,718.4 1201.4,711.9 1201.4,700.7 1204.8,695.4" fill="#fff100" stroke="#514b45" stroke-width="1.2"/>
<g stroke="#231815" fill="none">
<rect x="300" y="65.8" width="1171.9" height="1354.9" stroke-width="4.3"/>
<rect x="1492.8" y="67.1" width="780.6" height="1354.5" stroke-width="4.3"/>
<line x1="302" y1="125.5" x2="310.8" y2="125.5" stroke-width="3.2" stroke-linecap="butt"/>
<line x1="302" y1="178" x2="310.8" y2="178" stroke-width="3.2" stroke-linecap="butt"/>
<line x1="302" y1="235.5" x2="310.8" y2="235.5" stroke-width="3.2" stroke-linecap="butt"/>
<line x1="302" y1="288.5" x2="310.8" y2="288.5" stroke-width="3.2" stroke-linecap="butt"/>
<line x1="302" y1="394.2" x2="310.8" y2="394.2" stroke-width="3.2" stroke-linecap="butt"/>
<line x1="302" y1="450.7" x2="310.8" y2="450.7" stroke-width="3.2" stroke-linecap="butt"/>
<line x1="302" y1="503.6" x2="310.8" y2="503.6" stroke-width="3.2" stroke-linecap="butt"/>
<line x1="302" y1="558.2" x2="310.8" y2="558.2" stroke-width="3.2" stroke-linecap="butt"/>
<line x1="302" y1="611.4" x2="310.8" y2="611.4" stroke-width="3.2" stroke-linecap="butt"/>
<line x1="302" y1="667.8" x2="310.8" y2="667.8" stroke-width="3.2" stroke-linecap="butt"/>
<line x1="302" y1="721" x2="310.8" y2="721" stroke-width="3.2" stroke-linecap="butt"/>
<line x1="302" y1="774.5" x2="310.8" y2="774.5" stroke-width="3.2" stroke-linecap="butt"/>
<line x1="302" y1="828" x2="310.8" y2="828" stroke-width="3.2" stroke-linecap="butt"/>
<line x1="302" y1="937.3" x2="310.8" y2="937.3" stroke-width="3.2" stroke-linecap="butt"/>
<line x1="302" y1="991" x2="310.8" y2="991" stroke-width="3.2" stroke-linecap="butt"/>
<line x1="302" y1="1044.7" x2="310.8" y2="1044.7" stroke-width="3.2" stroke-linecap="butt"/>
<line x1="302" y1="1098.4" x2="310.8" y2="1098.4" stroke-width="3.2" stroke-linecap="butt"/>
<line x1="302" y1="1204" x2="310.8" y2="1204" stroke-width="3.2" stroke-linecap="butt"/>
<line x1="302" y1="1257.6" x2="310.8" y2="1257.6" stroke-width="3.2" stroke-linecap="butt"/>
<line x1="302" y1="1313.4" x2="310.8" y2="1313.4" stroke-width="3.2" stroke-linecap="butt"/>
<line x1="302" y1="1367.1" x2="310.8" y2="1367.1" stroke-width="3.2" stroke-linecap="butt"/>
<line x1="302" y1="341" x2="320.7" y2="341" stroke-width="3.2" stroke-linecap="butt"/>
<line x1="302" y1="884.1" x2="320.7" y2="884.1" stroke-width="3.2" stroke-linecap="butt"/>
<line x1="302" y1="1152.6" x2="320.7" y2="1152.6" stroke-width="3.2" stroke-linecap="butt"/>
<line x1="418.2" y1="1418.6" x2="418.2" y2="1405.5" stroke-width="3.2" stroke-linecap="butt"/>
<line x1="537.2" y1="1418.6" x2="537.2" y2="1405.5" stroke-width="3.2" stroke-linecap="butt"/>
<line x1="769.7" y1="1418.6" x2="769.7" y2="1405.5" stroke-width="3.2" stroke-linecap="butt"/>
<line x1="887.5" y1="1418.6" x2="887.5" y2="1405.5" stroke-width="3.2" stroke-linecap="butt"/>
<line x1="1007.7" y1="1418.6" x2="1007.7" y2="1405.5" stroke-width="3.2" stroke-linecap="butt"/>
<line x1="1122.2" y1="1418.6" x2="1122.2" y2="1405.5" stroke-width="3.2" stroke-linecap="butt"/>
<line x1="1241" y1="1418.6" x2="1241" y2="1405.5" stroke-width="3.2" stroke-linecap="butt"/>
<line x1="1359.7" y1="1418.6" x2="1359.7" y2="1405.5" stroke-width="3.2" stroke-linecap="butt"/>
<line x1="653.3" y1="1418.6" x2="653.3" y2="1398.3" stroke-width="3.2" stroke-linecap="butt"/>
<line x1="1495" y1="125.7" x2="1503" y2="125.7" stroke-width="3.2" stroke-linecap="butt"/>
<line x1="1495" y1="178.5" x2="1503" y2="178.5" stroke-width="3.2" stroke-linecap="butt"/>
<line x1="1495" y1="235.4" x2="1503" y2="235.4" stroke-width="3.2" stroke-linecap="butt"/>
<line x1="1495" y1="288" x2="1503" y2="288" stroke-width="3.2" stroke-linecap="butt"/>
<line x1="1495" y1="393.9" x2="1503" y2="393.9" stroke-width="3.2" stroke-linecap="butt"/>
<line x1="1495" y1="448.5" x2="1503" y2="448.5" stroke-width="3.2" stroke-linecap="butt"/>
<line x1="1495" y1="503" x2="1503" y2="503" stroke-width="3.2" stroke-linecap="butt"/>
<line x1="1495" y1="557.2" x2="1503" y2="557.2" stroke-width="3.2" stroke-linecap="butt"/>
<line x1="1495" y1="610" x2="1503" y2="610" stroke-width="3.2" stroke-linecap="butt"/>
<line x1="1495" y1="667.5" x2="1503" y2="667.5" stroke-width="3.2" stroke-linecap="butt"/>
<line x1="1495" y1="720.6" x2="1503" y2="720.6" stroke-width="3.2" stroke-linecap="butt"/>
<line x1="1495" y1="774.3" x2="1503" y2="774.3" stroke-width="3.2" stroke-linecap="butt"/>
<line x1="1495" y1="828" x2="1503" y2="828" stroke-width="3.2" stroke-linecap="butt"/>
<line x1="1495" y1="937" x2="1503" y2="937" stroke-width="3.2" stroke-linecap="butt"/>
<line x1="1495" y1="990.2" x2="1503" y2="990.2" stroke-width="3.2" stroke-linecap="butt"/>
<line x1="1495" y1="1043.3" x2="1503" y2="1043.3" stroke-width="3.2" stroke-linecap="butt"/>
<line x1="1495" y1="1099.4" x2="1503" y2="1099.4" stroke-width="3.2" stroke-linecap="butt"/>
<line x1="1495" y1="1204" x2="1503" y2="1204" stroke-width="3.2" stroke-linecap="butt"/>
<line x1="1495" y1="1257" x2="1503" y2="1257" stroke-width="3.2" stroke-linecap="butt"/>
<line x1="1495" y1="1313.3" x2="1503" y2="1313.3" stroke-width="3.2" stroke-linecap="butt"/>
<line x1="1495" y1="1367" x2="1503" y2="1367" stroke-width="3.2" stroke-linecap="butt"/>
<line x1="1495" y1="340.7" x2="1512.7" y2="340.7" stroke-width="3.2" stroke-linecap="butt"/>
<line x1="1495" y1="883.6" x2="1512.7" y2="883.6" stroke-width="3.2" stroke-linecap="butt"/>
<line x1="1495" y1="1153" x2="1512.7" y2="1153" stroke-width="3.2" stroke-linecap="butt"/>
<line x1="1521" y1="1419.5" x2="1521" y2="1409.7" stroke-width="3.2" stroke-linecap="butt"/>
<line x1="1548.2" y1="1419.5" x2="1548.2" y2="1409.7" stroke-width="3.2" stroke-linecap="butt"/>
<line x1="1577.2" y1="1419.5" x2="1577.2" y2="1409.7" stroke-width="3.2" stroke-linecap="butt"/>
<line x1="1606.3" y1="1419.5" x2="1606.3" y2="1409.7" stroke-width="3.2" stroke-linecap="butt"/>
<line x1="1635.3" y1="1419.5" x2="1635.3" y2="1409.7" stroke-width="3.2" stroke-linecap="butt"/>
<line x1="1662.4" y1="1419.5" x2="1662.4" y2="1409.7" stroke-width="3.2" stroke-linecap="butt"/>
<line x1="1721.5" y1="1419.5" x2="1721.5" y2="1409.7" stroke-width="3.2" stroke-linecap="butt"/>
<line x1="1750.6" y1="1419.5" x2="1750.6" y2="1409.7" stroke-width="3.2" stroke-linecap="butt"/>
<line x1="1776.8" y1="1419.5" x2="1776.8" y2="1409.7" stroke-width="3.2" stroke-linecap="butt"/>
<line x1="1806.8" y1="1419.5" x2="1806.8" y2="1409.7" stroke-width="3.2" stroke-linecap="butt"/>
<line x1="1839.3" y1="1419.5" x2="1839.3" y2="1409.7" stroke-width="3.2" stroke-linecap="butt"/>
<line x1="1868.7" y1="1419.5" x2="1868.7" y2="1409.7" stroke-width="3.2" stroke-linecap="butt"/>
<line x1="1895.2" y1="1419.5" x2="1895.2" y2="1409.7" stroke-width="3.2" stroke-linecap="butt"/>
<line x1="1924.3" y1="1419.5" x2="1924.3" y2="1409.7" stroke-width="3.2" stroke-linecap="butt"/>
<line x1="1955" y1="1419.5" x2="1955" y2="1409.7" stroke-width="3.2" stroke-linecap="butt"/>
<line x1="2010.8" y1="1419.5" x2="2010.8" y2="1409.7" stroke-width="3.2" stroke-linecap="butt"/>
<line x1="2040.2" y1="1419.5" x2="2040.2" y2="1409.7" stroke-width="3.2" stroke-linecap="butt"/>
<line x1="2071.1" y1="1419.5" x2="2071.1" y2="1409.7" stroke-width="3.2" stroke-linecap="butt"/>
<line x1="2100.5" y1="1419.5" x2="2100.5" y2="1409.7" stroke-width="3.2" stroke-linecap="butt"/>
<line x1="2126.5" y1="1419.5" x2="2126.5" y2="1409.7" stroke-width="3.2" stroke-linecap="butt"/>
<line x1="2156.4" y1="1419.5" x2="2156.4" y2="1409.7" stroke-width="3.2" stroke-linecap="butt"/>
<line x1="2187.6" y1="1419.5" x2="2187.6" y2="1409.7" stroke-width="3.2" stroke-linecap="butt"/>
<line x1="2217" y1="1419.5" x2="2217" y2="1409.7" stroke-width="3.2" stroke-linecap="butt"/>
<line x1="2243.5" y1="1419.5" x2="2243.5" y2="1409.7" stroke-width="3.2" stroke-linecap="butt"/>
<line x1="1691.4" y1="1419.5" x2="1691.4" y2="1401.7" stroke-width="3.2" stroke-linecap="butt"/>
<line x1="1985.6" y1="1419.5" x2="1985.6" y2="1401.7" stroke-width="3.2" stroke-linecap="butt"/>
</g>
<g fill="#231815" stroke="#231815" stroke-width="0.5">
<text transform="translate(166.95 102) scale(1 1.032)" font-size="75" letter-spacing="4.95" text-anchor="start" font-family="Liberation Sans, sans-serif">20</text>
<text transform="translate(169.95 374.8) scale(1 1.032)" font-size="75" letter-spacing="1.35" text-anchor="start" font-family="Liberation Sans, sans-serif">10</text>
<text transform="translate(169.0 640) scale(1 1.032)" font-size="75" text-anchor="start" font-family="Liberation Sans, sans-serif">0</text>
<text transform="translate(167.75 913.6) scale(1 1.032)" font-size="75" letter-spacing="3.875" text-anchor="start" font-family="Liberation Sans, sans-serif">-10</text>
<text transform="translate(167.75 1188.3) scale(1 1.032)" font-size="75" letter-spacing="3.875" text-anchor="start" font-family="Liberation Sans, sans-serif">-20</text>
<text transform="translate(167.75 1440.6) scale(1 1.032)" font-size="75" letter-spacing="3.525" text-anchor="start" font-family="Liberation Sans, sans-serif">-30</text>
<text transform="translate(243.25 1491.4) scale(1 1.032)" font-size="56" letter-spacing="3.25" text-anchor="start" font-family="Liberation Sans, sans-serif">200</text>
<text transform="translate(1431.35 1495.2) scale(1 1.032)" font-size="56" letter-spacing="2.2" text-anchor="start" font-family="Liberation Sans, sans-serif">300</text>
<text transform="translate(1624.05 1478.6) scale(1 1.032)" font-size="56" letter-spacing="1.983" text-anchor="start" font-family="Liberation Sans, sans-serif">1000</text>
<text transform="translate(1917.15 1479.3) scale(1 1.032)" font-size="56" letter-spacing="2.783" text-anchor="start" font-family="Liberation Sans, sans-serif">2000</text>
<text transform="translate(2205.35 1479.3) scale(1 1.032)" font-size="56" letter-spacing="2.65" text-anchor="start" font-family="Liberation Sans, sans-serif">3000</text>
<text transform="translate(1027.85 1589.1) scale(1 1.04)" font-size="111" letter-spacing="5.9" font-family="Liberation Sans, sans-serif">Age(Ma)</text>
<g clip-path="url(#clipL)">
<text transform="translate(1007.31 537.6) scale(1.086 1)" font-size="34.8" letter-spacing="1.25" font-family="Liberation Sans, sans-serif">Reworking of juvenile</text>
<text transform="translate(1007.31 578.7) scale(1.086 1)" font-size="34.8" letter-spacing="1.25" font-family="Liberation Sans, sans-serif">basaltic crust</text>
<text transform="translate(990.31 767.7) scale(1.086 1)" font-size="34.8" letter-spacing="1.25" font-family="Liberation Sans, sans-serif">Reworking of ancient lower</text>
<text transform="translate(990.31 807.7) scale(1.086 1)" font-size="34.8" letter-spacing="1.25" font-family="Liberation Sans, sans-serif">crust</text>
</g>
<text x="1505.25" y="597.3" font-size="56" letter-spacing="2.869" text-anchor="start" font-family="Liberation Sans, sans-serif">Chondrite</text>
<text transform="translate(1694.75 226.13) rotate(19)" font-size="54" letter-spacing="3.3" font-family="Liberation Sans, sans-serif">Depleted mantle</text>
<text transform="translate(1522.04 411.89) rotate(-45.1)" font-size="55" letter-spacing="2.0" font-family="Liberation Sans, sans-serif">1.0Ga</text>
<text transform="translate(1542.8 828.75) rotate(-45.4)" font-size="55" letter-spacing="2.3" font-family="Liberation Sans, sans-serif">2.0Ga</text>
<text transform="translate(1580.44 1000.5) rotate(-45.4)" font-size="55" letter-spacing="2.1" font-family="Liberation Sans, sans-serif">2.5Ga</text>
<text transform="translate(1594.18 1223.64) rotate(-53.4)" font-size="55" letter-spacing="2.1" font-family="Liberation Sans, sans-serif">3.0Ga</text>
<text transform="translate(1979.24 754.29) rotate(-49.7)" font-size="56" letter-spacing="2.6" font-family="Liberation Sans, sans-serif">Crust</text>
<g transform="translate(1787.6 1108.8) rotate(-48.5)" font-family="Liberation Sans, sans-serif"><text x="-54.8" y="-25.5" font-size="27" letter-spacing="1">176</text><text x="-4.25" y="0" font-size="53" letter-spacing="4.3">Lu/</text><text x="82.33" y="-27" font-size="27" letter-spacing="1.5">177</text><text x="131.85" y="0" font-size="53" letter-spacing="4.5">Hf=0.015</text></g>
<g transform="translate(112.1 0) rotate(-90)"><text x="-959.3" y="-12.8" font-size="96.7" font-family="Liberation Serif, serif">ε</text><text x="-884.5" y="0" font-size="113" font-family="Liberation Sans, sans-serif">H</text><text x="-799.4" y="0" font-size="113" font-family="Liberation Sans, sans-serif">f</text><text x="-762.4" y="-5.2" font-size="92" font-weight="600" font-family="Noto Serif CJK SC, serif">（</text><text x="-656.4" y="0" font-size="116" font-family="Liberation Sans, sans-serif">t</text><text x="-612.8" y="-5.2" font-size="92" font-weight="600" font-family="Noto Serif CJK SC, serif">）</text></g>
<text x="1083.6" y="1191" font-size="42.7" letter-spacing="1.541" text-anchor="start" font-family="Liberation Sans, sans-serif">Laocheng appinite</text>
<text x="1082.3" y="1257.4" font-size="42.7" letter-spacing="1.1" text-anchor="start" font-family="Liberation Sans, sans-serif" xml:space="preserve">Triassic  granites</text>
<text x="1081.45" y="1327.8" font-size="42.7" letter-spacing="1.204" text-anchor="start" font-family="Liberation Sans, sans-serif">mafic enclaves</text>
</g>
<circle cx="1052.1" cy="1178" r="19" fill="#5ec796" stroke="#9a9a9a" stroke-width="2"/>
<circle cx="1051.1" cy="1244.5" r="19" fill="#fff100" stroke="#231815" stroke-width="2.2"/>
<circle cx="1051.1" cy="1315.2" r="19" fill="#00a0e9" stroke="#231815" stroke-width="2.2"/>
</svg></body></html>
